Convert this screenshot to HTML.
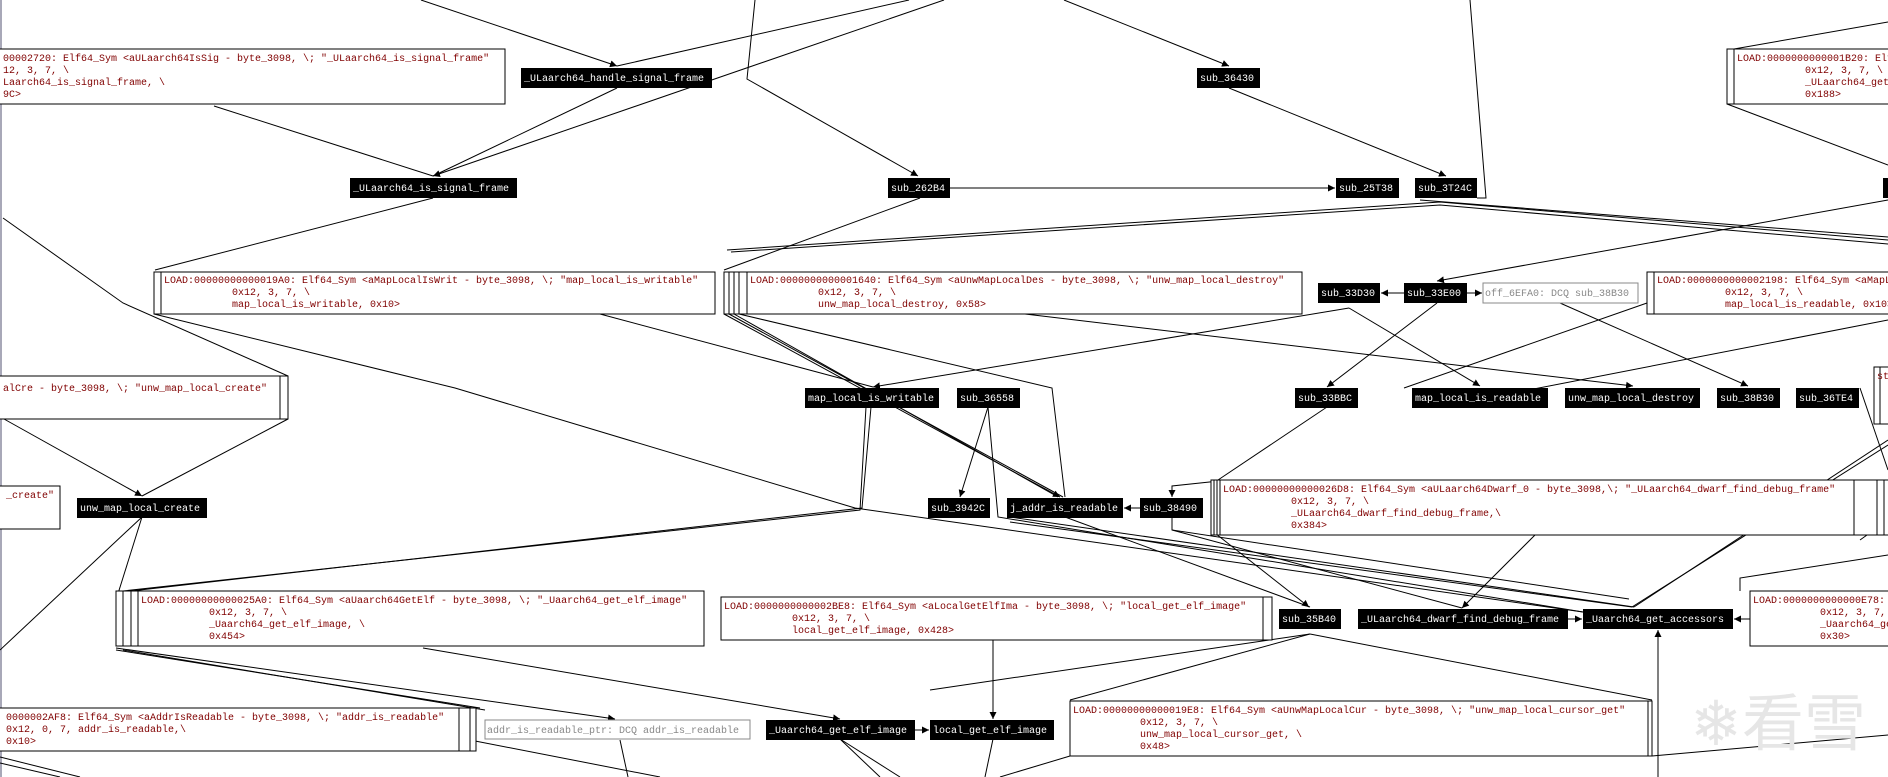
<!DOCTYPE html>
<html><head><meta charset="utf-8"><style>
html,body{margin:0;padding:0;background:#fff;}
svg{display:block}
text{font-family:"Liberation Mono",monospace;font-size:10px;white-space:pre}
.r{fill:#800000}.w{fill:#fff}.g{fill:#888}
.n{fill:#000}
.b{fill:#fff;stroke:#000;stroke-width:1}
.gb{fill:#fff;stroke:#888;stroke-width:1}
line,polyline{stroke:#000;stroke-width:1;fill:none}
</style></head><body>
<svg width="1888" height="777" viewBox="0 0 1888 777" xmlns="http://www.w3.org/2000/svg">
<defs><marker id="a" markerWidth="8" markerHeight="8" refX="7" refY="4" orient="auto" markerUnits="userSpaceOnUse"><path d="M0,0.5 L7,4 L0,7.5z" fill="#000"/></marker></defs>
<rect x="0" y="0" width="2" height="777" fill="#a8a8b8"/>
<!-- edges -->
<g>
<line x1="421" y1="0" x2="617" y2="66" marker-end="url(#a)"/>
<line x1="909" y1="0" x2="617" y2="66"/>
<polyline points="755,0 747,79 918,176" marker-end="url(#a)"/>
<line x1="944" y1="0" x2="433" y2="176" marker-end="url(#a)"/>
<line x1="617" y1="88" x2="433" y2="176"/>
<line x1="214" y1="106" x2="433" y2="176"/>
<line x1="433" y1="198" x2="155" y2="270"/>
<line x1="920" y1="198" x2="724" y2="270"/>
<line x1="950" y1="188" x2="1335" y2="188" marker-end="url(#a)"/>
<line x1="1064" y1="0" x2="1229" y2="66" marker-end="url(#a)"/>
<line x1="1229" y1="88" x2="1446" y2="176" marker-end="url(#a)"/>
<polyline points="1470,0 1486,198 1477,198"/>
<polyline points="727,250 1440,202 1888,240"/>
<polyline points="731,252 1440,205 1888,244"/>
<polyline points="1420,200 1888,237"/>
<line x1="1727" y1="104" x2="1888" y2="165"/>
<line x1="1734" y1="49" x2="1888" y2="22"/>
<line x1="1888" y1="200" x2="1437" y2="281" marker-end="url(#a)"/>
<line x1="1404" y1="293" x2="1381" y2="293" marker-end="url(#a)"/>
<line x1="1467" y1="293" x2="1482" y2="293" marker-end="url(#a)"/>
<line x1="1349" y1="308" x2="873" y2="387" marker-end="url(#a)"/>
<line x1="1349" y1="308" x2="1480" y2="386" marker-end="url(#a)"/>
<line x1="1437" y1="303" x2="1327" y2="387" marker-end="url(#a)"/>
<line x1="1560" y1="303" x2="1748" y2="386" marker-end="url(#a)"/>
<line x1="1025" y1="314" x2="1633" y2="386" marker-end="url(#a)"/>
<polyline points="1647,303 1404,388"/>
<line x1="1888" y1="320" x2="1462" y2="403"/>
<line x1="600" y1="314" x2="873" y2="387"/>
<polyline points="154,314 455,388 855,508 1583,612"/>
<polyline points="3,218 123,303 288,376"/>
<polyline points="871,407 862,508 131,591"/>
<polyline points="866,407 860,510 123,591"/>
<line x1="988" y1="407" x2="960" y2="497" marker-end="url(#a)"/>
<polyline points="988,407 998,517 1583,612"/>
<polyline points="724,314 1060,497" marker-end="url(#a)"/>
<line x1="729" y1="314" x2="1063" y2="497"/>
<line x1="734" y1="314" x2="1058" y2="497"/>
<polyline points="739,314 1052,388 1065,497"/>
<line x1="1327" y1="407" x2="1218" y2="480"/>
<polyline points="1219,481 1172,486 1172,497" marker-end="url(#a)"/>
<line x1="1140" y1="508" x2="1124" y2="508" marker-end="url(#a)"/>
<polyline points="1172,517 1172,530 1629,599"/>
<line x1="1065" y1="517" x2="1310" y2="607"/>
<line x1="1211" y1="530" x2="1309" y2="607" marker-end="url(#a)"/>
<line x1="1535" y1="535" x2="1462" y2="608" marker-end="url(#a)"/>
<line x1="1172" y1="530" x2="1462" y2="608"/>
<line x1="1568" y1="619" x2="1582" y2="619" marker-end="url(#a)"/>
<line x1="1750" y1="619" x2="1734" y2="619" marker-end="url(#a)"/>
<line x1="1658" y1="777" x2="1658" y2="630" marker-end="url(#a)"/>
<polyline points="1740,591 1740,578 1888,555"/>
<line x1="1888" y1="440" x2="1634" y2="607"/>
<line x1="1888" y1="445" x2="1632" y2="607"/>
<line x1="1010" y1="517" x2="1634" y2="607"/>
<line x1="1010" y1="522" x2="1632" y2="607"/>
<line x1="1860" y1="388" x2="1888" y2="470"/>
<line x1="1310" y1="634" x2="1070" y2="700"/>
<line x1="1310" y1="634" x2="1652" y2="700"/>
<line x1="1310" y1="634" x2="930" y2="690"/>
<line x1="993" y1="640" x2="993" y2="719" marker-end="url(#a)"/>
<line x1="423" y1="648" x2="840" y2="719" marker-end="url(#a)"/>
<line x1="116" y1="648" x2="615" y2="719" marker-end="url(#a)"/>
<line x1="116" y1="650" x2="480" y2="708"/>
<line x1="123" y1="650" x2="485" y2="710"/>
<line x1="915" y1="730" x2="929" y2="730" marker-end="url(#a)"/>
<line x1="142" y1="517" x2="116" y2="600"/>
<line x1="142" y1="517" x2="0" y2="650"/>
<line x1="4" y1="419" x2="142" y2="496" marker-end="url(#a)"/>
<line x1="288" y1="419" x2="142" y2="496"/>
<line x1="1070" y1="756" x2="1000" y2="777"/>
<line x1="1652" y1="756" x2="1888" y2="735"/>
<line x1="840" y1="739" x2="880" y2="777"/>
<line x1="840" y1="739" x2="900" y2="777"/>
<line x1="993" y1="739" x2="985" y2="777"/>
<line x1="0" y1="757" x2="80" y2="777"/>
<line x1="0" y1="763" x2="60" y2="777"/>
<line x1="470" y1="740" x2="660" y2="777"/>
<line x1="620" y1="740" x2="628" y2="777"/>
<line x1="1860" y1="540" x2="1888" y2="520"/>
</g>
<!-- stacked box outlines -->
<rect class="b" x="1727" y="49" width="200" height="55"/>
<rect class="b" x="154" y="272" width="561" height="42"/>
<rect class="b" x="724" y="272" width="578" height="42"/>
<rect class="b" x="729" y="272" width="573" height="42"/>
<rect class="b" x="734" y="272" width="568" height="42"/>
<rect class="b" x="739" y="272" width="563" height="42"/>
<rect class="b" x="1647" y="272" width="260" height="42"/>
<rect class="b" x="-10" y="376" width="298" height="43"/>
<rect class="b" x="116" y="591" width="588" height="55"/>
<rect class="b" x="123" y="591" width="581" height="55"/>
<rect class="b" x="131" y="591" width="573" height="55"/>
<rect class="b" x="1211" y="480" width="680" height="55"/>
<rect class="b" x="1214" y="480" width="670" height="55"/>
<rect class="b" x="1217" y="480" width="660" height="55"/>
<rect class="b" x="721" y="597" width="551" height="43"/>
<rect class="b" x="-10" y="708" width="486" height="43"/>
<rect class="b" x="-10" y="708" width="480" height="43"/>
<rect class="b" x="1070" y="701" width="582" height="55"/>
<rect class="b" x="1874" y="367" width="30" height="57"/>
<!-- boxes -->
<rect class="b" x="-10" y="49" width="515" height="55"/>
<text class="r" x="3" y="61">00002720: Elf64_Sym &lt;aULaarch64IsSig - byte_3098, \; "_ULaarch64_is_signal_frame"</text>
<text class="r" x="3" y="73">12, 3, 7, \</text>
<text class="r" x="3" y="85">Laarch64_is_signal_frame, \</text>
<text class="r" x="3" y="97">9C&gt;</text>
<rect class="b" x="1734" y="49" width="200" height="55"/>
<text class="r" x="1737" y="61">LOAD:0000000000001B20: Elf64_Sym</text>
<text class="r" x="1805" y="73">0x12, 3, 7, \</text>
<text class="r" x="1805" y="85">_ULaarch64_get_proc_name, \</text>
<text class="r" x="1805" y="97">0x188&gt;</text>
<rect class="b" x="161" y="272" width="554" height="42"/>
<text class="r" x="164" y="283">LOAD:00000000000019A0: Elf64_Sym &lt;aMapLocalIsWrit - byte_3098, \; "map_local_is_writable"</text>
<text class="r" x="232" y="295">0x12, 3, 7, \</text>
<text class="r" x="232" y="307">map_local_is_writable, 0x10&gt;</text>
<rect class="b" x="747" y="272" width="555" height="42"/>
<text class="r" x="750" y="283">LOAD:0000000000001640: Elf64_Sym &lt;aUnwMapLocalDes - byte_3098, \; "unw_map_local_destroy"</text>
<text class="r" x="818" y="295">0x12, 3, 7, \</text>
<text class="r" x="818" y="307">unw_map_local_destroy, 0x58&gt;</text>
<rect class="b" x="1654" y="272" width="260" height="42"/>
<text class="r" x="1657" y="283">LOAD:0000000000002198: Elf64_Sym &lt;aMapLocalIsRead</text>
<text class="r" x="1725" y="295">0x12, 3, 7, \</text>
<text class="r" x="1725" y="307">map_local_is_readable, 0x10&gt;</text>
<rect class="b" x="-10" y="376" width="290" height="43"/>
<text class="r" x="3" y="391">alCre - byte_3098, \; "unw_map_local_create"</text>
<rect class="b" x="-10" y="486" width="70" height="43"/>
<text class="r" x="6" y="498">_create"</text>
<rect class="b" x="138" y="591" width="566" height="55"/>
<text class="r" x="141" y="603">LOAD:00000000000025A0: Elf64_Sym &lt;aUaarch64GetElf - byte_3098, \; "_Uaarch64_get_elf_image"</text>
<text class="r" x="209" y="615">0x12, 3, 7, \</text>
<text class="r" x="209" y="627">_Uaarch64_get_elf_image, \</text>
<text class="r" x="209" y="639">0x454&gt;</text>
<rect class="b" x="721" y="597" width="542" height="43"/>
<text class="r" x="724" y="609">LOAD:0000000000002BE8: Elf64_Sym &lt;aLocalGetElfIma - byte_3098, \; "local_get_elf_image"</text>
<text class="r" x="792" y="621">0x12, 3, 7, \</text>
<text class="r" x="792" y="633">local_get_elf_image, 0x428&gt;</text>
<rect class="b" x="-10" y="708" width="469" height="43"/>
<text class="r" x="6" y="720">0000002AF8: Elf64_Sym &lt;aAddrIsReadable - byte_3098, \; "addr_is_readable"</text>
<text class="r" x="6" y="732">0x12, 0, 7, addr_is_readable,\</text>
<text class="r" x="6" y="744">0x10&gt;</text>
<rect class="gb" x="485" y="720" width="265" height="19"/>
<text class="g" x="487" y="733">addr_is_readable_ptr: DCQ addr_is_readable</text>
<rect class="gb" x="1483" y="283" width="155" height="20"/>
<text class="g" x="1485" y="296">off_6EFA0: DCQ sub_38B30</text>
<rect class="b" x="1220" y="480" width="634" height="55"/>
<text class="r" x="1223" y="492">LOAD:00000000000026D8: Elf64_Sym &lt;aULaarch64Dwarf_0 - byte_3098,\; "_ULaarch64_dwarf_find_debug_frame"</text>
<text class="r" x="1291" y="504">0x12, 3, 7, \</text>
<text class="r" x="1291" y="516">_ULaarch64_dwarf_find_debug_frame,\</text>
<text class="r" x="1291" y="528">0x384&gt;</text>
<rect class="b" x="1750" y="591" width="160" height="55"/>
<text class="r" x="1753" y="603">LOAD:0000000000000E78:</text>
<text class="r" x="1820" y="615">0x12, 3, 7,</text>
<text class="r" x="1820" y="627">_Uaarch64_get_</text>
<text class="r" x="1820" y="639">0x30&gt;</text>
<rect class="b" x="1070" y="701" width="578" height="55"/>
<text class="r" x="1073" y="713">LOAD:00000000000019E8: Elf64_Sym &lt;aUnwMapLocalCur - byte_3098, \; "unw_map_local_cursor_get"</text>
<text class="r" x="1140" y="725">0x12, 3, 7, \</text>
<text class="r" x="1140" y="737">unw_map_local_cursor_get, \</text>
<text class="r" x="1140" y="749">0x48&gt;</text>
<rect class="b" x="1880" y="367" width="20" height="57"/>
<text class="r" x="1877" y="379">st</text>
<!-- black nodes -->
<g>
<rect class="n" x="521" y="68" width="191" height="20"/><text class="w" x="524" y="81">_ULaarch64_handle_signal_frame</text>
<rect class="n" x="350" y="178" width="167" height="20"/><text class="w" x="353" y="191">_ULaarch64_is_signal_frame</text>
<rect class="n" x="888" y="178" width="62" height="20"/><text class="w" x="891" y="191">sub_262B4</text>
<rect class="n" x="1336" y="178" width="63" height="20"/><text class="w" x="1339" y="191">sub_25T38</text>
<rect class="n" x="1415" y="178" width="62" height="20"/><text class="w" x="1418" y="191">sub_3T24C</text>
<rect class="n" x="1883" y="178" width="10" height="20"/>
<rect class="n" x="1197" y="68" width="63" height="20"/><text class="w" x="1200" y="81">sub_36430</text>
<rect class="n" x="1318" y="283" width="62" height="20"/><text class="w" x="1321" y="296">sub_33D30</text>
<rect class="n" x="1404" y="283" width="63" height="20"/><text class="w" x="1407" y="296">sub_33E00</text>
<rect class="n" x="805" y="388" width="134" height="20"/><text class="w" x="808" y="401">map_local_is_writable</text>
<rect class="n" x="957" y="388" width="63" height="20"/><text class="w" x="960" y="401">sub_36558</text>
<rect class="n" x="1295" y="388" width="63" height="20"/><text class="w" x="1298" y="401">sub_33BBC</text>
<rect class="n" x="1412" y="388" width="136" height="20"/><text class="w" x="1415" y="401">map_local_is_readable</text>
<rect class="n" x="1565" y="388" width="135" height="20"/><text class="w" x="1568" y="401">unw_map_local_destroy</text>
<rect class="n" x="1717" y="388" width="63" height="20"/><text class="w" x="1720" y="401">sub_38B30</text>
<rect class="n" x="1796" y="388" width="63" height="20"/><text class="w" x="1799" y="401">sub_36TE4</text>
<rect class="n" x="77" y="498" width="130" height="20"/><text class="w" x="80" y="511">unw_map_local_create</text>
<rect class="n" x="928" y="498" width="62" height="20"/><text class="w" x="931" y="511">sub_3942C</text>
<rect class="n" x="1007" y="498" width="116" height="20"/><text class="w" x="1010" y="511">j_addr_is_readable</text>
<rect class="n" x="1140" y="498" width="63" height="20"/><text class="w" x="1143" y="511">sub_38490</text>
<rect class="n" x="1279" y="609" width="62" height="20"/><text class="w" x="1282" y="622">sub_35B40</text>
<rect class="n" x="1358" y="609" width="210" height="20"/><text class="w" x="1361" y="622">_ULaarch64_dwarf_find_debug_frame</text>
<rect class="n" x="1583" y="609" width="150" height="20"/><text class="w" x="1586" y="622">_Uaarch64_get_accessors</text>
<rect class="n" x="766" y="720" width="149" height="20"/><text class="w" x="769" y="733">_Uaarch64_get_elf_image</text>
<rect class="n" x="930" y="720" width="124" height="20"/><text class="w" x="933" y="733">local_get_elf_image</text>
</g>
<!-- watermark -->
<text x="1690" y="745" style="font-family:'Noto Sans CJK SC',sans-serif;font-size:62px;fill:#e6e6e6">❄看雪</text>
</svg>
</body></html>
